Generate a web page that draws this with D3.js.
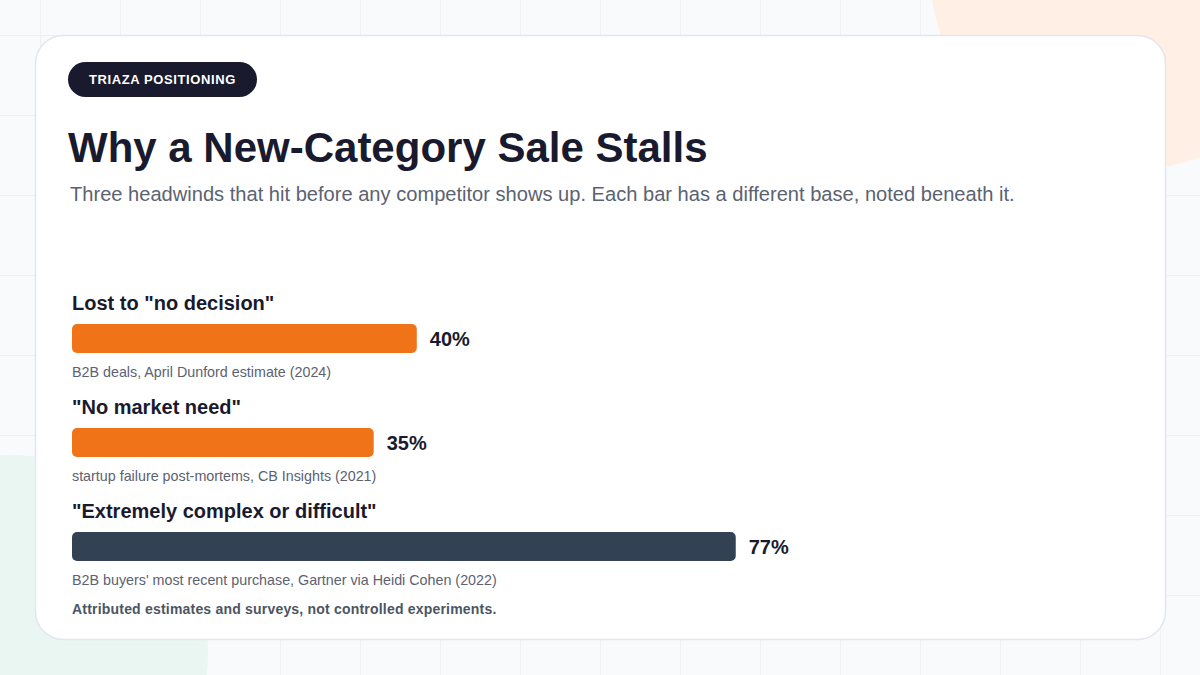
<!DOCTYPE html>
<html>
<head>
<meta charset="utf-8">
<script src="https://cdn.jsdelivr.net/npm/d3@7"></script>
<style>
  html, body { margin: 0; padding: 0; background: #f8fafc; }
  svg { display: block; font-family: "Liberation Sans", Arial, sans-serif; }
</style>
</head>
<body>
<div id="chart"></div>
<script>
var width = 1200,
    height = 675;

// data
var labels = ['Lost to "no decision"', '"No market need"', '"Extremely complex or difficult"'];
var values = [40, 35, 77];
var notes = [
  "B2B deals, April Dunford estimate (2024)",
  "startup failure post-mortems, CB Insights (2021)",
  "B2B buyers' most recent purchase, Gartner via Heidi Cohen (2022)"
];
var barColors = ["#f07318", "#f07318", "#334155"];

var badgeText = "TRIAZA POSITIONING";
var titleText = "Why a New-Category Sale Stalls";
var subtitleText = "Three headwinds that hit before any competitor shows up. Each bar has a different base, noted beneath it.";
var footText = "Attributed estimates and surveys, not controlled experiments.";

var ink = "#1a1a2e",
    gray = "#5b6272";

var svg = d3.select("#chart").append("svg")
  .attr("width", width)
  .attr("height", height);

// background
svg.append("rect").attr("width", width).attr("height", height).attr("fill", "#f8fafc");

var grid = svg.append("g").attr("stroke", "#edf0f5").attr("stroke-width", 1);
d3.range(40, width, 80).forEach(function(x) {
  grid.append("line").attr("x1", x + 0.5).attr("x2", x + 0.5).attr("y1", 0).attr("y2", height);
});
d3.range(35, height, 80).forEach(function(y) {
  grid.append("line").attr("y1", y + 0.5).attr("y2", y + 0.5).attr("x1", 0).attr("x2", width);
});

svg.append("circle").attr("cx", 1130).attr("cy", -30).attr("r", 200).attr("fill", "#ffefe4");
svg.append("circle").attr("cx", 10).attr("cy", 653).attr("r", 198).attr("fill", "#eaf6f1");

// card
svg.append("rect")
  .attr("x", 35.5).attr("y", 35.5)
  .attr("width", 1130).attr("height", 604)
  .attr("rx", 28)
  .attr("fill", "#ffffff")
  .attr("stroke", "#e2e6ee")
  .attr("stroke-width", 1.5);

// badge
var badge = svg.append("g");
badge.append("rect")
  .attr("x", 68).attr("y", 62)
  .attr("width", 189).attr("height", 35)
  .attr("rx", 17.5)
  .attr("fill", ink);
badge.append("text")
  .attr("x", 162.5).attr("y", 84)
  .attr("text-anchor", "middle")
  .attr("fill", "#ffffff")
  .attr("font-size", 13)
  .attr("font-weight", 700)
  .attr("letter-spacing", 0.6)
  .text(badgeText);

svg.append("text")
  .attr("x", 68).attr("y", 162)
  .attr("fill", ink)
  .attr("font-size", 42)
  .attr("font-weight", 700)
  .text(titleText);

svg.append("text")
  .attr("x", 70).attr("y", 201)
  .attr("fill", gray)
  .attr("font-size", 20.1)
  .text(subtitleText);

// bars
var left = 72,
    rowTop = 290,
    rowStep = 104;

var x = d3.scaleLinear().domain([0, 100]).range([0, 862]);
var y = d3.scaleBand().domain(d3.range(values.length)).range([rowTop, rowTop + rowStep * values.length]);

var rows = svg.selectAll("g.row")
  .data(values)
  .enter().append("g")
  .attr("class", "row")
  .attr("transform", function(d, i) { return "translate(" + left + "," + y(i) + ")"; });

rows.append("text")
  .attr("x", 0).attr("y", 20)
  .attr("fill", ink)
  .attr("font-size", 20)
  .attr("font-weight", 700)
  .text(function(d, i) { return labels[i]; });

rows.append("rect")
  .attr("x", 0).attr("y", 34)
  .attr("height", 29)
  .attr("width", function(d) { return x(d); })
  .attr("rx", 5)
  .attr("fill", function(d, i) { return barColors[i]; });

rows.append("text")
  .attr("x", function(d) { return x(d) + 13; })
  .attr("y", 56)
  .attr("fill", ink)
  .attr("font-size", 20)
  .attr("font-weight", 700)
  .text(function(d) { return d + "%"; });

rows.append("text")
  .attr("x", 0).attr("y", 87)
  .attr("fill", gray)
  .attr("font-size", 14.3)
  .text(function(d, i) { return notes[i]; });

svg.append("text")
  .attr("x", 72).attr("y", 614)
  .attr("fill", "#4b5563")
  .attr("font-size", 14)
  .attr("font-weight", 700)
  .attr("letter-spacing", 0.2)
  .text(footText);
</script>
</body>
</html>
